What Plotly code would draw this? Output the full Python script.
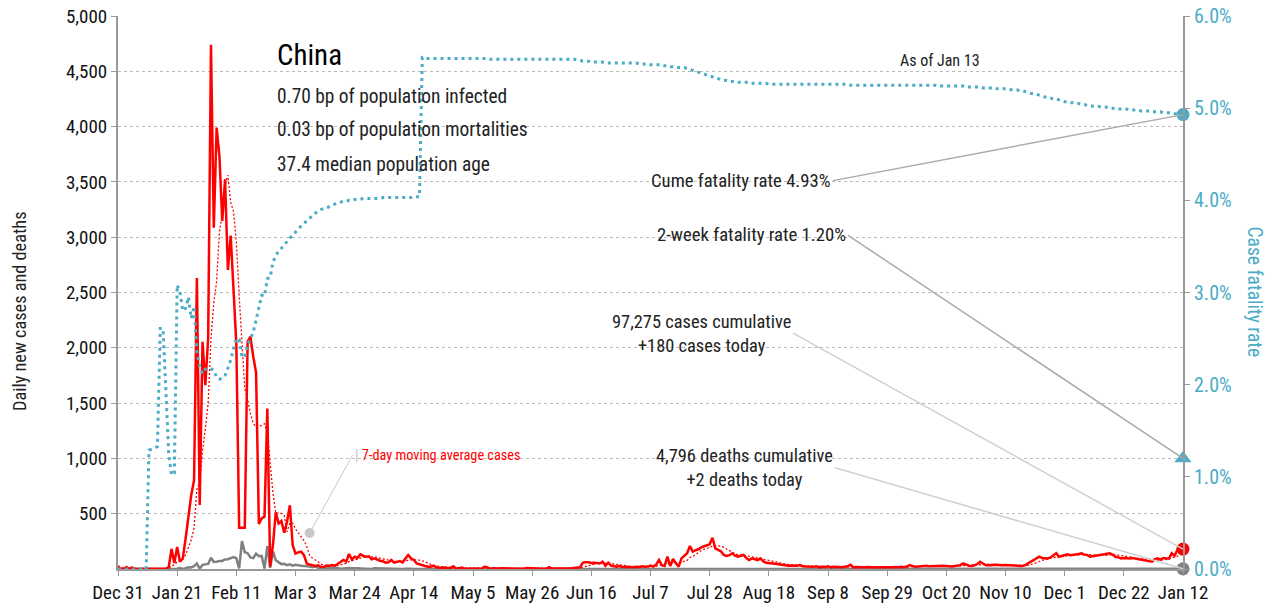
import pandas as pd
import plotly.graph_objects as go

START_DATE = "2019-12-31"
END_DATE = "2021-01-12"

# ---- daily new cases ----
cases_dec2019 = [27]
cases_jan = [0, 0, 17, 0, 15, 0, 0, 0, 0, 0, 0, 0, 0, 0, 0, 0, 4, 17, 181, 55,
             200, 66, 95, 277, 486, 669, 802, 2632, 578, 2054, 1661]
cases_feb = [2089, 4739, 3086, 3991, 3733, 3147, 3523, 2704, 3015, 2525,
             2032, 373, 373, 373, 2055, 2100, 1921, 1777, 408, 458,
             473, 1451, 21, 219, 513, 412, 434, 328, 428]
cases_mar = [576, 217, 140, 150, 157, 125, 50, 40, 30, 27, 34, 20, 18, 32, 30, 35, 30, 48, 68, 81,
             66, 136, 87, 111, 100, 133, 120, 111, 115, 87, 96]
cases_apr = [82, 75, 70, 57, 60, 81, 57, 66, 72, 60, 96, 127, 96, 81, 51, 45, 35, 27, 20, 21,
             30, 15, 12, 15, 14, 8, 6, 25, 5, 6]
cases_may = [12, 2, 3, 1, 2, 1, 4, 1, 20, 17, 1, 7, 3, 5, 6, 5, 7, 6, 6, 5,
             4, 3, 3, 10, 7, 7, 2, 4, 2, 2, 2]
cases_jun = [16, 5, 5, 4, 8, 7, 5, 4, 6, 11, 11, 15, 57, 62, 60, 55, 57, 55, 50, 66,
             30, 57, 30, 25, 20, 27, 18, 21, 19, 15]
cases_jul = [15, 20, 18, 25, 20, 22, 30, 21, 40, 81, 35, 28, 111, 27, 90, 51, 21, 96, 120, 142,
             208, 157, 170, 178, 195, 202, 215, 223, 283, 187, 172]
cases_aug = [160, 127, 118, 125, 142, 120, 111, 120, 127, 100, 81, 96, 90, 81, 96, 70, 57, 55, 50, 51,
             45, 40, 36, 33, 30, 32, 28, 30, 36, 25, 22]
cases_sep = [21, 18, 20, 24, 15, 20, 18, 25, 15, 20, 18, 22, 16, 20, 24, 39, 15, 18, 15, 12,
             15, 18, 15, 12, 14, 16, 15, 18, 15, 14]
cases_oct = [15, 18, 15, 20, 16, 22, 36, 27, 20, 22, 25, 28, 30, 24, 26, 27, 25, 28, 30, 27,
             24, 22, 27, 30, 35, 51, 40, 30, 28, 33, 45]
cases_nov = [66, 50, 35, 36, 33, 38, 35, 30, 33, 36, 34, 30, 32, 30, 28, 27, 35, 51, 70, 85,
             96, 111, 100, 98, 96, 105, 120, 142, 111, 120]
cases_dec = [125, 133, 125, 127, 130, 135, 142, 130, 127, 111, 115, 120, 125, 127, 130, 135, 142, 130, 111, 105,
             96, 100, 98, 95, 100, 96, 90, 85, 81, 75, 70]
cases_jan2021 = [66, 90, 96, 85, 100, 96, 95, 142, 120, 172, 160, 180]

# ---- daily new deaths ----
deaths_dec2019 = [0]
deaths_jan = [0, 0, 0, 0, 0, 0, 0, 0, 0, 0, 1, 0, 0, 0, 1, 0, 0, 0, 1, 3,
              3, 9, 1, 8, 16, 14, 26, 49, 2, 38, 42]
deaths_feb = [46, 102, 64, 65, 73, 73, 86, 89, 97, 108, 97, 5, 253, 152, 143, 104, 98, 139, 115, 118,
              4, 207, 11, 160, 79, 62, 44, 47, 35]
deaths_mar = [42, 31, 38, 31, 30, 28, 27, 22, 17, 22, 11, 7, 13, 10, 14, 13, 11, 8, 3, 7,
              6, 9, 7, 4, 6, 5, 3, 5, 4, 1, 7]
deaths_apr = [6, 4, 4, 3, 1, 2, 0, 2, 2, 1, 3, 0, 2, 1, 0, 1, 1, 0, 0, 0,
              0, 0, 0, 0, 0, 0, 0, 0, 0, 0]
deaths_may = [0, 0, 0, 0, 0, 0, 0, 0, 0, 0, 0, 0, 0, 0, 1, 0, 0, 0, 0, 0,
              0, 0, 0, 0, 0, 0, 0, 0, 0, 0, 0]
deaths_jun = [0, 0, 0, 0, 0, 0, 0, 0, 0, 0, 0, 0, 0, 0, 0, 0, 0, 0, 0, 0,
              0, 0, 0, 0, 0, 0, 0, 0, 0, 0]
deaths_jul = [0, 0, 0, 0, 0, 0, 1, 0, 0, 0, 0, 0, 0, 0, 0, 0, 1, 1, 2, 1,
              1, 0, 3, 1, 2, 2, 3, 3, 3, 2, 2]
deaths_aug = [3, 4, 3, 4, 2, 4, 2, 3, 3, 2, 2, 3, 2, 3, 2, 2, 2, 1, 3, 1,
              2, 1, 2, 1, 1, 1, 1, 2, 1, 2, 0]
deaths_sep = [1, 1, 1, 0, 1, 0, 0, 1, 0, 0, 1, 0, 0, 0, 0, 1, 0, 0, 0, 0,
              0, 0, 0, 1, 0, 0, 0, 0, 0, 0]
deaths_oct = [0, 0, 0, 0, 0, 0, 0, 0, 0, 0, 0, 0, 0, 0, 0, 0, 1, 0, 0, 0,
              0, 0, 0, 0, 0, 0, 0, 0, 0, 0, 0]
deaths_nov = [0, 0, 0, 0, 0, 0, 0, 0, 0, 0, 0, 0, 0, 0, 0, 0, 0, 0, 0, 0,
              0, 0, 0, 0, 0, 0, 0, 0, 0, 0]
deaths_dec = [1, 2, 1, 1, 0, 2, 1, 1, 2, 1, 3, 1, 2, 1, 2, 2, 1, 2, 1, 2,
              1, 2, 1, 2, 3, 1, 2, 1, 2, 1, 2]
deaths_jan2021 = [1, 2, 1, 2, 1, 3, 2, 1, 1, 2, 2, 2]

# ---- cumulative case fatality rate, % ----
cfr_dec2019 = [0]
cfr_jan = [0, 0, 0, 0, 0, 0, 0, 0, 0, 0, 1.29, 1.30, 1.31, 1.33, 2.61, 2.61, 1.90, 1.25, 1.02, 1.04,
           3.08, 3.00, 2.80, 2.83, 2.95, 2.72, 2.85, 2.35, 2.20, 2.12, 2.17]
cfr_feb = [2.18, 2.17, 2.16, 2.08, 2.06, 2.07, 2.10, 2.18, 2.27, 2.39, 2.50, 2.49, 2.30, 2.30, 2.43, 2.50,
           2.57, 2.70, 2.83, 2.97, 2.96, 3.15, 3.16, 3.33, 3.40, 3.45, 3.48, 3.52, 3.56]
cfr_mar = [3.59, 3.62, 3.66, 3.69, 3.72, 3.75, 3.78, 3.81, 3.84, 3.86, 3.88, 3.90, 3.91, 3.92, 3.93, 3.95,
           3.96, 3.97, 3.98, 3.99, 3.99, 4.00, 4.00, 4.01, 4.01, 4.01, 4.02, 4.02, 4.02, 4.02, 4.02]
cfr_apr = [4.02, 4.02, 4.03, 4.03, 4.03, 4.03, 4.03, 4.03, 4.03, 4.03, 4.03, 4.03, 4.03, 4.04, 4.04, 4.04,
           5.55, 5.54, 5.54, 5.54, 5.54, 5.54, 5.54, 5.54, 5.54, 5.54, 5.54, 5.54, 5.54, 5.54]
cfr_may = [5.54, 5.54, 5.54, 5.54, 5.54, 5.54, 5.54, 5.54, 5.54, 5.54, 5.53, 5.53, 5.53, 5.53, 5.53, 5.53,
           5.53, 5.53, 5.53, 5.53, 5.53, 5.53, 5.53, 5.53, 5.53, 5.53, 5.53, 5.53, 5.53, 5.53, 5.53]
cfr_jun = [5.53, 5.53, 5.53, 5.53, 5.53, 5.53, 5.53, 5.53, 5.53, 5.53, 5.52, 5.52, 5.51, 5.51, 5.51,
           5.50, 5.50, 5.50, 5.50, 5.50, 5.49, 5.49, 5.49, 5.49, 5.49, 5.49, 5.49, 5.49, 5.49, 5.49]
cfr_jul = [5.49, 5.49, 5.48, 5.48, 5.48, 5.48, 5.47, 5.47, 5.47, 5.47, 5.47, 5.46, 5.46, 5.45, 5.45, 5.44,
           5.44, 5.44, 5.44, 5.43, 5.42, 5.41, 5.40, 5.39, 5.38, 5.37, 5.36, 5.35, 5.34, 5.33, 5.32]
cfr_aug = [5.31, 5.30, 5.30, 5.29, 5.29, 5.29, 5.28, 5.28, 5.28, 5.28, 5.27, 5.27, 5.27, 5.27, 5.27, 5.27,
           5.27, 5.26, 5.26, 5.26, 5.26, 5.26, 5.26, 5.26, 5.26, 5.26, 5.26, 5.26, 5.26, 5.26, 5.26]
cfr_sep = [5.26, 5.26, 5.26, 5.26, 5.26, 5.26, 5.26, 5.26, 5.26, 5.26, 5.26, 5.26, 5.26, 5.26, 5.26,
           5.25, 5.25, 5.25, 5.25, 5.25, 5.25, 5.25, 5.25, 5.25, 5.25, 5.25, 5.25, 5.25, 5.25, 5.25]
cfr_oct = [5.25, 5.25, 5.25, 5.25, 5.25, 5.25, 5.25, 5.25, 5.25, 5.25, 5.25, 5.25, 5.25, 5.25, 5.25, 5.25,
           5.24, 5.24, 5.24, 5.24, 5.24, 5.24, 5.24, 5.24, 5.24, 5.24, 5.23, 5.23, 5.23, 5.23, 5.23]
cfr_nov = [5.23, 5.22, 5.22, 5.22, 5.22, 5.22, 5.21, 5.21, 5.21, 5.21, 5.21, 5.20, 5.20, 5.20, 5.19,
           5.19, 5.18, 5.17, 5.16, 5.16, 5.15, 5.14, 5.13, 5.12, 5.12, 5.11, 5.10, 5.10, 5.09, 5.08]
cfr_dec = [5.07, 5.07, 5.06, 5.06, 5.05, 5.05, 5.04, 5.04, 5.03, 5.03, 5.02, 5.02, 5.02, 5.01, 5.01, 5.01,
           5.00, 5.00, 5.00, 4.99, 4.99, 4.99, 4.99, 4.98, 4.98, 4.98, 4.98, 4.97, 4.97, 4.97, 4.97]
cfr_jan2021 = [4.96, 4.96, 4.96, 4.96, 4.95, 4.95, 4.95, 4.94, 4.94, 4.94, 4.93, 4.93]

two_week_cfr = 1.20

left_tick_values = [500, 1000, 1500, 2000, 2500, 3000, 3500, 4000, 4500, 5000]
right_tick_values = [0, 1, 2, 3, 4, 5, 6]

title_text = "China"
stats_lines = ["0.70 bp of population infected",
               "0.03 bp of population mortalities",
               "37.4 median population age"]
as_of_text = "As of Jan 13"
cume_label = "Cume fatality rate 4.93%"
twoweek_label = "2-week fatality rate 1.20%"
cases_label = "97,275 cases cumulative<br>+180 cases today"
deaths_label = "4,796 deaths cumulative<br>+2 deaths today"
ma_label = "7-day moving average cases"

# ---- assemble ----
cases = (cases_dec2019 + cases_jan + cases_feb + cases_mar + cases_apr + cases_may + cases_jun +
         cases_jul + cases_aug + cases_sep + cases_oct + cases_nov + cases_dec + cases_jan2021)
deaths = (deaths_dec2019 + deaths_jan + deaths_feb + deaths_mar + deaths_apr + deaths_may + deaths_jun +
          deaths_jul + deaths_aug + deaths_sep + deaths_oct + deaths_nov + deaths_dec + deaths_jan2021)
cfr = (cfr_dec2019 + cfr_jan + cfr_feb + cfr_mar + cfr_apr + cfr_may + cfr_jun +
       cfr_jul + cfr_aug + cfr_sep + cfr_oct + cfr_nov + cfr_dec + cfr_jan2021)
dates = pd.date_range(START_DATE, END_DATE, freq="D")
ma7 = pd.Series(cases).rolling(7, min_periods=1).mean().tolist()

FONT = "Liberation Sans Narrow, Roboto Condensed, DejaVu Sans Condensed, Arial Narrow, sans-serif"
RED = "#FF0000"
TEAL = "#4BACC6"
GREY = "#808080"
AXIS = "#999999"

fig = go.Figure()
fig.add_trace(go.Scatter(x=dates, y=ma7, mode="lines", line=dict(color=RED, width=1.3, dash="2px,2px"),
                         hoverinfo="skip"))
fig.add_trace(go.Scatter(x=dates, y=deaths, mode="lines", line=dict(color=GREY, width=2.5)))
fig.add_trace(go.Scatter(x=dates, y=cases, mode="lines", line=dict(color=RED, width=2.5)))
fig.add_trace(go.Scatter(x=[dates[-1]], y=[deaths[-1]], mode="markers", cliponaxis=False,
                         marker=dict(color=GREY, size=13)))
fig.add_trace(go.Scatter(x=[dates[-1]], y=[cases[-1]], mode="markers", cliponaxis=False,
                         marker=dict(color=RED, size=13)))
fig.add_trace(go.Scatter(x=dates, y=cfr, yaxis="y2", mode="lines",
                         line=dict(color=TEAL, width=3, dash="3px,4px")))
fig.add_trace(go.Scatter(x=[dates[-1]], y=[cfr[-1]], yaxis="y2", mode="markers", cliponaxis=False,
                         marker=dict(color=TEAL, size=13)))
fig.add_trace(go.Scatter(x=[dates[-1]], y=[two_week_cfr], yaxis="y2", mode="markers", cliponaxis=False,
                         marker=dict(color=TEAL, size=15, symbol="triangle-up")))

annotations = []
annotations.append(dict(text=title_text, xref="paper", yref="paper", x=0.1474, y=0.9295,
                        xanchor="left", yanchor="middle", showarrow=False,
                        font=dict(size=29, color="#000")))
for line, yp in zip(stats_lines, [0.8553, 0.7939, 0.7306]):
    annotations.append(dict(text=line, xref="paper", yref="paper", x=0.1474, y=yp,
                            xanchor="left", yanchor="middle", showarrow=False,
                            font=dict(size=19.4, color="#222")))
annotations.append(dict(text=as_of_text, xref="paper", yref="paper", x=0.7718, y=0.9204,
                        xanchor="center", yanchor="middle", showarrow=False,
                        font=dict(size=16, color="#222")))
annotations.append(dict(text=cume_label, x=dates[-1], y=cfr[-1], xref="x", yref="y2",
                        ax=-350, ay=66, xanchor="right", yanchor="middle", showarrow=True,
                        arrowhead=0, arrowwidth=1.5, arrowcolor="#aaaaaa",
                        font=dict(size=18.7, color="#222")))
annotations.append(dict(text=twoweek_label, x=dates[-1], y=two_week_cfr, xref="x", yref="y2",
                        ax=-335, ay=-223, xanchor="right", yanchor="middle", showarrow=True,
                        arrowhead=0, arrowwidth=1.5, arrowcolor="#aaaaaa",
                        font=dict(size=18.7, color="#222")))
annotations.append(dict(text=cases_label, x=dates[-1], y=cases[-1], xref="x", yref="y",
                        ax=-390, ay=-216, xanchor="right", yanchor="middle", align="center",
                        showarrow=True, arrowhead=0, arrowwidth=1.5, arrowcolor="#d0d0d0",
                        font=dict(size=18.4, color="#222")))
annotations.append(dict(text=deaths_label, x=dates[-1], y=deaths[-1], xref="x", yref="y",
                        ax=-348, ay=-101, xanchor="right", yanchor="middle", align="center",
                        showarrow=True, arrowhead=0, arrowwidth=1.5, arrowcolor="#d0d0d0",
                        font=dict(size=18.4, color="#222")))
annotations.append(dict(text="<span style='color:#bbbbbb'>|</span> " + ma_label,
                        x=dates[68], y=325, xref="x", yref="y",
                        ax=43, ay=-78, xanchor="left", yanchor="middle", showarrow=True,
                        arrowhead=6, arrowsize=2.5, arrowwidth=1, arrowcolor="#c8c8c8",
                        font=dict(size=14.3, color=RED)))
annotations.append(dict(text="Daily new cases and deaths", xref="paper", yref="paper",
                        x=-0.092, y=0.465, textangle=-90, showarrow=False,
                        xanchor="center", yanchor="middle", font=dict(size=18.3, color="#222")))
annotations.append(dict(text="Case fatality rate", xref="paper", yref="paper",
                        x=1.0676, y=0.5, textangle=90, showarrow=False,
                        xanchor="center", yanchor="middle", font=dict(size=19.5, color=TEAL)))

fig.update_layout(
    width=1273, height=608,
    margin=dict(l=118, r=90, t=16, b=39, autoexpand=False),
    paper_bgcolor="white", plot_bgcolor="white",
    showlegend=False,
    font=dict(family=FONT, size=16, color="#222"),
    annotations=annotations,
    xaxis=dict(type="date", range=[START_DATE, END_DATE], tick0=START_DATE, automargin=False,
               dtick=21 * 86400000, tickformat="%b %-d", showgrid=False,
               showline=True, linecolor=AXIS, linewidth=2, ticks="outside",
               tickcolor=AXIS, ticklen=5, tickwidth=1, tickfont=dict(size=19, color="#111"),
               zeroline=False),
    yaxis=dict(range=[0, 5000], tickvals=left_tick_values, automargin=False,
               ticktext=[f"{v:,}" for v in left_tick_values],
               showgrid=True, gridcolor="#bbbbbb", griddash="dot", gridwidth=1,
               showline=True, linecolor=AXIS, linewidth=2, ticks="outside",
               tickcolor=AXIS, ticklen=5, tickwidth=1, zeroline=False,
               tickfont=dict(size=19, color="#111")),
    yaxis2=dict(range=[0, 6], overlaying="y", side="right", tickvals=right_tick_values,
                ticktext=[f"{v:.1f}%" for v in right_tick_values], automargin=False,
                showgrid=False, showline=True, linecolor=AXIS, linewidth=2,
                ticks="outside", tickcolor=AXIS, ticklen=5, tickwidth=1, zeroline=False,
                tickfont=dict(size=20, color=TEAL)),
)

# remove the browser's default 8px page margin so the figure fills the window exactly
fig.write_html("out.html", config={"displayModeBar": False},
               post_script="document.body.style.margin='0';")
